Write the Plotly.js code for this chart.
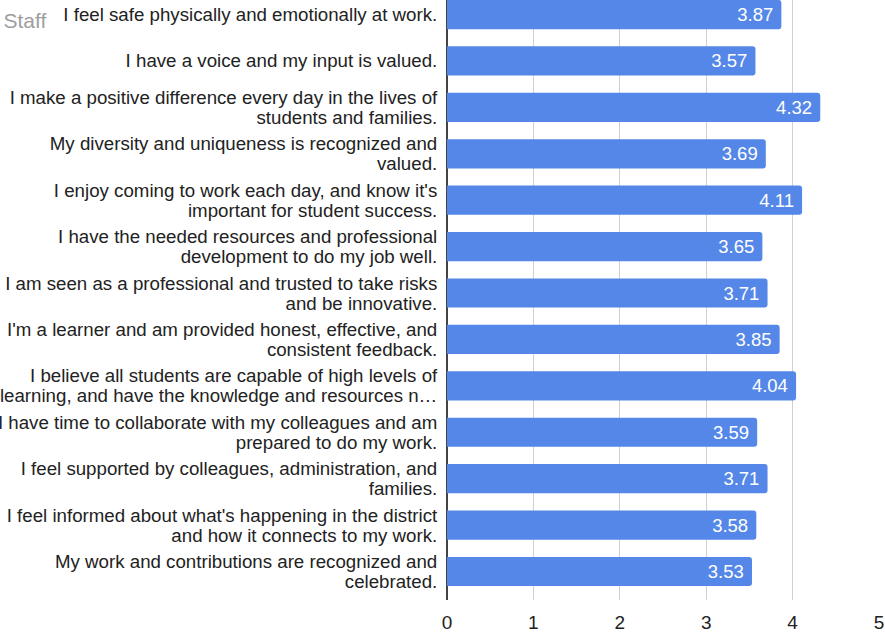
<!DOCTYPE html>
<html><head><meta charset="utf-8">
<script src="https://cdn.plot.ly/plotly-3.0.1.min.js"></script>
<style>html,body{margin:0;padding:0;background:#fff;}#chart{width:885px;height:632px;}</style>
</head><body><div id="chart"></div>
<script>
const categories = [
  "I feel safe physically and emotionally at work.",
  "I have a voice and my input is valued.",
  "I make a positive difference every day in the lives of<br>students and families.",
  "My diversity and uniqueness is recognized and<br>valued.",
  "I enjoy coming to work each day, and know it's<br>important for student success.",
  "I have the needed resources and professional<br>development to do my job well.",
  "I am seen as a professional and trusted to take risks<br>and be innovative.",
  "I'm a learner and am provided honest, effective, and<br>consistent feedback.",
  "I believe all students are capable of high levels of<br>learning, and have the knowledge and resources n…",
  "I have time to collaborate with my colleagues and am<br>prepared to do my work.",
  "I feel supported by colleagues, administration, and<br>families.",
  "I feel informed about what's happening in the district<br>and how it connects to my work.",
  "My work and contributions are recognized and<br>celebrated."
];
const values = [3.87, 3.57, 4.32, 3.69, 4.11, 3.65, 3.71, 3.85, 4.04, 3.59, 3.71, 3.58, 3.53];
const xTicks = [0, 1, 2, 3, 4, 5];
const chartTitle = "Staff";

const FONT = 'Liberation Sans, Arial, sans-serif';
const LABEL_SIZE = 18.7;

const trace = {
  type: 'bar',
  orientation: 'h',
  y: categories,
  x: values,
  marker: {color: '#5587e8', cornerradius: 3},
  width: 0.63,
  texttemplate: '%{x:.2f}\u00a0',
  textposition: 'inside',
  insidetextanchor: 'end',
  textfont: {family: FONT, size: 18.5, color: '#ffffff'},
  constraintext: 'none',
  hoverinfo: 'none'
};

const layout = {
  width: 885, height: 632,
  margin: {l: 447, r: 6, t: 0, b: 32},
  paper_bgcolor: '#ffffff', plot_bgcolor: '#ffffff',
  showlegend: false,
  font: {family: FONT, color: '#222222'},
  title: {text: chartTitle, x: 0.004, xanchor: 'left', xref: 'container', y: 0.967, yanchor: 'middle', yref: 'container',
          font: {size: 21, color: '#9e9e9e', family: FONT}},
  xaxis: {
    range: [0, 5], tickvals: xTicks, ticktext: xTicks.map(String),
    showgrid: true, gridcolor: '#d0d0d0', gridwidth: 1,
    zeroline: true, zerolinecolor: '#444444', zerolinewidth: 1.3,
    ticks: 'outside', ticklen: 5, tickcolor: 'rgba(0,0,0,0)',
    tickfont: {size: 19, color: '#222222'}, fixedrange: true
  },
  yaxis: {
    type: 'category',
    range: [12.614, -0.3125],
    showgrid: false, zeroline: false, showline: false,
    ticks: 'outside', ticklen: 5, tickcolor: 'rgba(0,0,0,0)',
    tickfont: {size: LABEL_SIZE, color: '#222222'}, automargin: false, fixedrange: true
  }
};

Plotly.newPlot('chart', [trace], layout, {displayModeBar: false, staticPlot: true}).then(function () {
  // tighten the line spacing of the two-line category labels (about 20px per line)
  const ls = 20 / LABEL_SIZE;
  document.querySelectorAll('#chart .ytick text').forEach(function (t) {
    const lines = t.querySelectorAll('tspan.line');
    if (lines.length < 2) return;
    const b0 = t.getBBox();
    const c0 = b0.y + b0.height / 2;
    lines.forEach(function (ln, i) { ln.setAttribute('dy', (i * ls) + 'em'); });
    const b1 = t.getBBox();
    const shift = c0 - (b1.y + b1.height / 2);
    const ty = parseFloat(t.getAttribute('y') || '0');
    t.setAttribute('y', ty + shift);
    lines.forEach(function (ln) {
      const y = parseFloat(ln.getAttribute('y') || '0');
      ln.setAttribute('y', y + shift);
    });
  });
});
</script>
</body></html>
